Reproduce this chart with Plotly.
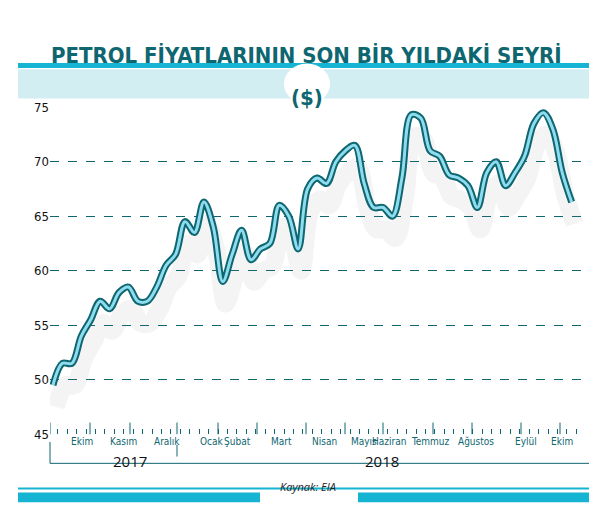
import plotly.graph_objects as go

# weekly oil price
prices = [49.5, 51.5, 51.5, 54, 55.5, 57.2, 56.5, 58, 58.5, 57.2, 57.2, 58.5, 60.5, 61.5,
          64.5, 63.5, 66.3, 64, 59, 61.5, 63.7, 61, 62, 62.5, 66, 65, 62, 67.5, 68.5, 68,
          70, 71, 71.5, 68, 65.8, 65.8, 65, 68.5, 74.3, 74, 71, 70.5, 68.8, 68.5, 67.8,
          65.8, 69, 70, 67.8, 69, 70.5, 73.5, 74.5, 73, 69, 66.3]
months = ["Ekim", "Kasım", "Aralık", "Ocak", "Şubat", "Mart", "Nisan", "Mayıs",
          "Haziran", "Temmuz", "Ağustos", "Eylül", "Ekim"]
month_label_px = [61, 100, 144, 190, 229, 273, 316, 356, 400, 444, 488, 531, 567]
month_tick_px = [42, 82, 122, 169, 210, 249, 298, 337, 375, 425, 464, 513, 552]
years = ["2017", "2018"]
y_ticks = [45, 50, 55, 60, 65, 70, 75]

W, H = 597, 507
TEAL = "#0e6670"
CYAN = "#14b4d2"
STEP, X0 = 9.43, 45


def px(x):
    return x / W


def py(y):
    return 1 - y / H


def idx(x):
    return (x - X0) / STEP


weeks = list(range(len(prices)))
fig = go.Figure()
fig.add_trace(go.Scatter(x=[w + 0.3 for w in weeks], y=[p - 2.0 for p in prices], mode="lines",
                         line=dict(color="rgba(110,110,130,0.08)", width=18, shape="spline"),
                         hoverinfo="skip"))
fig.add_trace(go.Scatter(x=weeks, y=prices, mode="lines",
                         line=dict(color=TEAL, width=7, shape="spline"), hoverinfo="skip"))
fig.add_trace(go.Scatter(x=weeks, y=prices, mode="lines",
                         line=dict(color="#8fdcef", width=3, shape="spline")))

shapes = [
    dict(type="line", xref="paper", yref="paper", x0=px(10), x1=px(585), y0=py(52), y1=py(52),
         line=dict(color=CYAN, width=5)),
    dict(type="rect", xref="paper", yref="paper", x0=px(10), x1=px(585), y0=py(86), y1=py(56),
         fillcolor="#d3eef3", line_width=0),
    dict(type="circle", xref="paper", yref="paper", x0=px(276), x1=px(322), y0=py(92), y1=py(50),
         fillcolor="white", line_width=0),
    # bracket below month labels
    dict(type="line", xref="paper", yref="paper", x0=px(42), x1=px(582), y0=py(462), y1=py(462),
         line=dict(color=TEAL, width=1)),
    dict(type="line", xref="paper", yref="paper", x0=px(42), x1=px(42), y0=py(440), y1=py(462),
         line=dict(color=TEAL, width=1)),
    dict(type="line", xref="paper", yref="paper", x0=px(169), x1=px(169), y0=py(443), y1=py(455),
         line=dict(color=TEAL, width=1)),
    dict(type="line", xref="paper", yref="paper", x0=px(582), x1=px(582), y0=py(443), y1=py(462),
         line=dict(color=TEAL, width=1)),
    # source bar
    dict(type="line", xref="paper", yref="paper", x0=px(10), x1=px(585), y0=py(488), y1=py(488),
         line=dict(color=CYAN, width=2)),
    dict(type="rect", xref="paper", yref="paper", x0=px(10), x1=px(252), y0=py(502), y1=py(492),
         fillcolor=CYAN, line_width=0),
    dict(type="rect", xref="paper", yref="paper", x0=px(350), x1=px(585), y0=py(502), y1=py(492),
         fillcolor=CYAN, line_width=0),
]
for t in month_tick_px:
    shapes.append(dict(type="line", xref="x", yref="paper", x0=idx(t), x1=idx(t),
                       y0=py(432), y1=py(420), line=dict(color=TEAL, width=1)))

annotations = [
    dict(text="<b>PETROL FİYATLARININ SON BİR YILDAKİ SEYRİ</b>", x=0.5, y=py(27), xref="paper",
         yref="paper", showarrow=False,
         font=dict(family="DejaVu Sans Condensed, DejaVu Sans", size=22, color=TEAL)),
    dict(text="<b>($)</b>", x=0.5, y=py(70), xref="paper", yref="paper", showarrow=False,
         font=dict(family="DejaVu Sans Condensed", size=22, color=TEAL)),
    dict(text="<i>Kaynak: EIA</i>", x=px(300), y=py(496), xref="paper", yref="paper",
         showarrow=False, font=dict(family="Open Sans", size=11, color="#222")),
]
for m, lx in zip(months, month_label_px):
    annotations.append(dict(text=m, x=px(lx), y=py(447), xref="paper", yref="paper",
                            showarrow=False,
                            font=dict(family="DejaVu Sans Condensed", size=10, color=TEAL)))
for yr, lx in zip(years, [103, 374]):
    annotations.append(dict(text=yr, x=px(lx), y=py(472), xref="paper", yref="paper",
                            showarrow=False, font=dict(family="Open Sans", size=15, color="#111")))

fig.update_layout(
    width=W, height=H, margin=dict(l=0, r=0, t=0, b=0), showlegend=False,
    paper_bgcolor="white", plot_bgcolor="white",
    xaxis=dict(domain=[px(42), px(582)], range=[idx(42), idx(582)], showgrid=False,
               zeroline=False, showticklabels=False, showline=False,
               ticks="inside", tickvals=[w + 0.5 for w in weeks], ticklen=5,
               tickcolor=TEAL, tickwidth=1),
    yaxis=dict(domain=[py(432), py(95)], range=[45, 75], tickvals=y_ticks,
               showgrid=True, gridcolor=TEAL, griddash="dash", gridwidth=0.7,
               zeroline=False, ticks="",
               tickfont=dict(family="DejaVu Sans Condensed", size=13, color="#111")),
    shapes=shapes, annotations=annotations,
)
fig.write_html("out.html")
